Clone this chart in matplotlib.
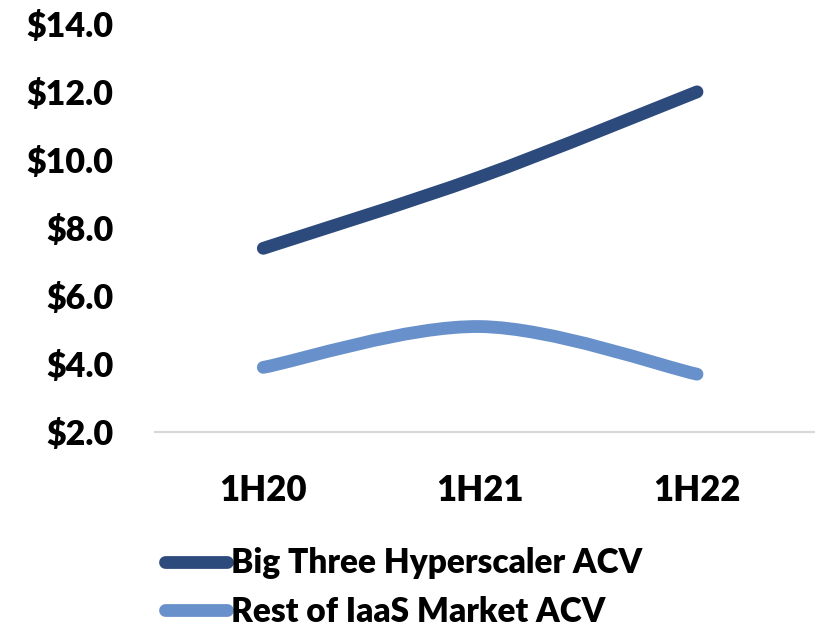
import matplotlib
matplotlib.use("Agg")
import matplotlib.pyplot as plt
from matplotlib.path import Path
from matplotlib.patches import PathPatch
from matplotlib.lines import Line2D
import numpy as np

periods = ["1H20", "1H21", "1H22"]
big_three = [7.4, 9.5, 12.0]
rest_of_iaas = [3.9, 5.1, 3.7]
series_names = ["Big Three Hyperscaler ACV", "Rest of IaaS Market ACV"]
series_colors = ["#2C4A7C", "#6890CB"]
y_ticks = [2, 4, 6, 8, 10, 12, 14]

plt.rcParams["font.family"] = ["Lato", "DejaVu Sans"]
plt.rcParams["font.weight"] = "heavy"


def smooth_path(xs, ys):
    # cubic Bezier through the points, spreadsheet-style smoothing
    pts = np.column_stack([xs, ys]).astype(float)
    n = len(pts)
    verts = [pts[0]]
    codes = [Path.MOVETO]
    for i in range(n - 1):
        p0 = pts[max(i - 1, 0)]
        p1 = pts[i]
        p2 = pts[i + 1]
        p3 = pts[min(i + 2, n - 1)]
        c1 = p1 + (p2 - p0) / 6
        c2 = p2 - (p3 - p1) / 6
        verts += [c1, c2, p2]
        codes += [Path.CURVE4] * 3
    return Path(verts, codes)


fig = plt.figure(figsize=(8.15, 6.27), dpi=100)
ax = fig.add_axes([0.190, 0.311, 0.810, 0.651])

x = np.arange(len(periods))
for vals, color in zip([big_three, rest_of_iaas], series_colors):
    patch = PathPatch(smooth_path(x, vals), facecolor="none", edgecolor=color,
                      lw=9.2, capstyle="round", joinstyle="round", zorder=3)
    ax.add_patch(patch)

ax.set_xlim(-0.5, 2.544)
ax.set_ylim(2, 14)
ax.set_yticks(y_ticks)
ax.set_yticklabels([f"${v:.1f}" for v in y_ticks])
ax.set_xticks(x)
ax.set_xticklabels(periods)
ax.tick_params(axis="y", length=0, pad=30, labelsize=24.5)
ax.tick_params(axis="x", length=0, pad=30, labelsize=25)

for side in ["top", "right", "left"]:
    ax.spines[side].set_visible(False)
ax.spines["bottom"].set_color("#D9D9D9")
ax.spines["bottom"].set_linewidth(1.6)

handles = [Line2D([0], [0], color=c, lw=9.2, solid_capstyle="round") for c in series_colors]
fig.legend(handles, series_names, loc="center left", bbox_to_anchor=(0.2025, 0.0625),
           frameon=False, fontsize=24.0, handlelength=1.87, handletextpad=0.12,
           labelspacing=0.5, borderpad=0, borderaxespad=0)

fig.savefig("out.png", dpi=100)
